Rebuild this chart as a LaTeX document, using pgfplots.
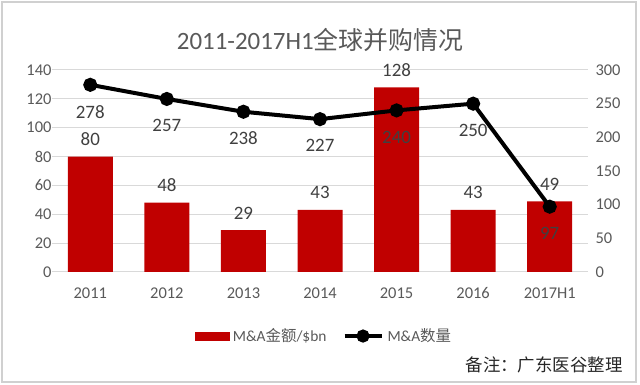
\documentclass[border=0pt]{standalone}
\usepackage{pgfplots}
\pgfplotsset{compat=1.18}
\usepackage{fontspec}
\setmainfont{Carlito}
\newfontfamily\cjk{Noto Sans CJK SC}
\definecolor{barred}{HTML}{C00000}
\definecolor{tickgray}{HTML}{595959}
\definecolor{labgray}{HTML}{404040}
\definecolor{gridgray}{HTML}{D9D9D9}
\definecolor{framegray}{HTML}{D0D0D0}
\begin{document}
\begin{tikzpicture}
\path[use as bounding box] (0bp,0bp) rectangle (640bp,385bp);
\draw[framegray, line width=1.5bp] (2bp,3bp) rectangle (636bp,383bp);
\node[font=\fontsize{25}{29}\selectfont, text=tickgray] at (320bp,345bp) {2011-2017H1{\cjk 全球并购情况}};
\node[font=\cjk\fontsize{17.5}{20}\selectfont, text=black!85, anchor=east] at (626bp,20bp) {备注：广东医谷整理};

\begin{axis}[
  at={(52bp,113bp)}, anchor=south west, scale only axis,
  width=536bp, height=202bp,
  xmin=-0.5, xmax=6.5, ymin=0, ymax=140,
  ytick={0,20,...,140},
  xtick={0,1,2,3,4,5,6},
  xticklabels={2011,2012,2013,2014,2015,2016,2017H1},
  ymajorgrids, grid style={gridgray, line width=1bp},
  axis line style={draw=none}, tick style={draw=none},
  ticklabel style={font=\fontsize{16.5}{19}\selectfont, text=tickgray},
  xticklabel style={yshift=-12bp},
  yticklabel style={xshift=3bp},
  /pgf/number format/assume math mode=true,
  clip=false,
]
\addplot[ybar, bar width=45bp, fill=barred, draw=none,
  nodes near coords,
  nodes near coords style={font=\fontsize{19}{22}\selectfont, text=labgray, yshift=7.5bp}]
  coordinates {(0,80) (1,48) (2,29) (3,43) (4,128) (5,43) (6,49)};
\end{axis}

\begin{axis}[
  at={(52bp,113bp)}, anchor=south west, scale only axis,
  width=536bp, height=202bp,
  xmin=-0.5, xmax=6.5, ymin=0, ymax=300,
  ytick={0,50,...,300},
  axis y line*=right, axis x line=none,
  axis line style={draw=none}, tick style={draw=none},
  ticklabel style={font=\fontsize{16.5}{19}\selectfont, text=tickgray},
  yticklabel style={xshift=4bp},
  /pgf/number format/assume math mode=true,
  clip=false,
  legend columns=2,
  legend style={at={(0.509,-0.317)}, anchor=center, draw=none, fill=none,
    font=\fontsize{15.5}{18}\selectfont, text=tickgray,
    nodes={inner xsep=4bp},
    /tikz/every even column/.append style={column sep=12bp}},
]
\addlegendimage{legend image code/.code={\fill[barred] (0bp,-4bp) rectangle (34bp,4bp);}}
\addlegendentry{M\&A{\cjk 金额}/\$bn}
\addplot[black, line width=4bp, mark=*, mark size=5bp,
  legend image code/.code={\draw[black, line width=4bp] (0bp,0bp) -- (37bp,0bp); \fill[black] (18.5bp,0bp) circle (4.5bp);},
  nodes near coords,
  nodes near coords style={anchor=north, font=\fontsize{19}{22}\selectfont, text=labgray, yshift=-15bp}]
  coordinates {(0,278) (1,257) (2,238) (3,227) (4,240) (5,250) (6,97)};
\addlegendentry{M\&A{\cjk 数量}}
\end{axis}
\end{tikzpicture}
\end{document}
